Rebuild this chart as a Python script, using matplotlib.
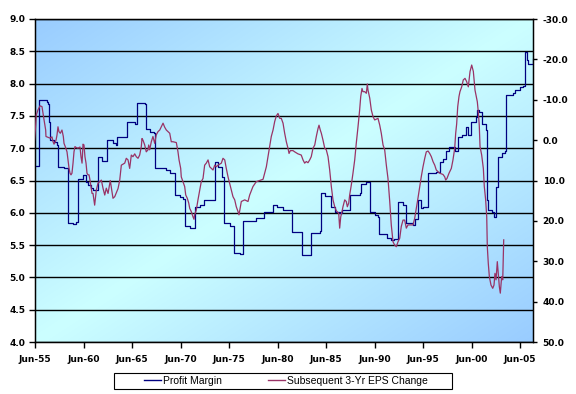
import numpy as np
import matplotlib
matplotlib.use("Agg")
import matplotlib.pyplot as plt
from matplotlib.lines import Line2D
from matplotlib.patches import Rectangle

# Profit margin (left axis), quarterly step data
pm_years = [
    1955.50, 1955.91, 1956.71, 1956.79, 1956.94, 1957.02, 1957.46, 1957.77, 1957.92, 1958.49,
    1958.90, 1959.42, 1959.73, 1959.96, 1960.45, 1960.76, 1960.96, 1961.27, 1961.48, 1961.99,
    1962.41, 1962.92, 1963.54, 1963.85, 1963.95, 1964.98, 1965.81, 1966.05, 1966.81, 1966.94,
    1967.36, 1967.77, 1967.87, 1969.00, 1969.42, 1969.93, 1970.45, 1970.76, 1970.96, 1971.48,
    1971.99, 1972.50, 1972.92, 1974.06, 1974.37, 1974.78, 1974.98, 1975.60, 1976.02, 1976.64,
    1976.94, 1978.28, 1979.11, 1980.04, 1980.45, 1981.07, 1981.99, 1983.03, 1983.95, 1984.88,
    1984.98, 1985.40, 1986.02, 1986.43, 1986.94, 1987.15, 1987.97, 1989.00, 1989.11, 1989.62,
    1990.00, 1990.55, 1990.86, 1990.96, 1991.79, 1992.20, 1992.51, 1992.92, 1993.44, 1993.75,
    1994.47, 1994.68, 1994.98, 1995.29, 1995.50, 1996.02, 1996.84, 1997.25, 1997.56, 1997.87,
    1998.18, 1998.80, 1999.08, 1999.52, 1999.94, 2000.15, 2000.45, 2000.97, 2001.10, 2001.28,
    2001.60, 2001.96, 2002.07, 2002.23, 2002.61, 2002.85, 2003.03, 2003.20, 2003.64, 2003.95,
    2004.06, 2004.68, 2004.81, 2004.98, 2005.50, 2005.81, 2006.01, 2006.19, 2006.35, 2006.70,
    2006.84]
pm_vals = [
    6.72, 7.75, 7.72, 7.68, 7.40, 7.13, 7.10, 7.05, 6.71, 6.69,
    5.84, 5.82, 5.86, 6.52, 6.58, 6.48, 6.43, 6.38, 6.36, 6.87,
    6.80, 7.12, 7.08, 7.05, 7.17, 7.41, 7.38, 7.70, 7.68, 7.30,
    7.25, 7.23, 6.69, 6.67, 6.62, 6.27, 6.24, 6.22, 5.79, 5.77,
    6.09, 6.12, 6.20, 6.79, 6.71, 6.56, 5.84, 5.79, 5.38, 5.36,
    5.88, 5.92, 6.02, 6.12, 6.09, 6.04, 5.70, 5.35, 5.69, 5.72,
    6.31, 6.26, 6.09, 6.02, 6.00, 6.04, 6.28, 6.30, 6.45, 6.47,
    6.02, 5.97, 5.94, 5.67, 5.61, 5.58, 5.60, 6.17, 6.12, 5.84,
    5.81, 5.90, 6.20, 6.07, 6.09, 6.61, 6.63, 6.79, 6.84, 6.95,
    7.02, 6.95, 7.18, 7.20, 7.33, 7.20, 7.41, 7.49, 7.59, 7.56,
    7.38, 7.28, 6.20, 6.04, 6.02, 5.94, 6.40, 6.87, 6.92, 6.96,
    7.82, 7.82, 7.85, 7.90, 7.95, 7.97, 8.49, 8.37, 8.30, 8.30,
    8.38]

# Subsequent 3-yr EPS change (right axis, inverted)
eps_years = [
    1955.45, 1955.57, 1955.63, 1955.81, 1956.02, 1956.22, 1956.32, 1956.46, 1956.60, 1956.63,
    1956.74, 1957.05, 1957.25, 1957.36, 1957.46, 1957.67, 1957.77, 1957.87, 1957.97, 1958.11,
    1958.28, 1958.42, 1958.49, 1958.62, 1958.80, 1958.90, 1959.01, 1959.11, 1959.21, 1959.31,
    1959.42, 1959.52, 1959.62, 1959.73, 1959.93, 1960.14, 1960.24, 1960.35, 1960.45, 1960.55,
    1960.65, 1960.76, 1960.86, 1960.96, 1961.07, 1961.17, 1961.27, 1961.38, 1961.48, 1961.65,
    1961.82, 1961.99, 1962.17, 1962.34, 1962.51, 1962.69, 1962.85, 1963.03, 1963.26, 1963.54,
    1963.72, 1964.06, 1964.23, 1964.40, 1964.75, 1964.91, 1965.09, 1965.26, 1965.43, 1965.60,
    1965.78, 1965.94, 1966.12, 1966.29, 1966.46, 1966.53, 1966.63, 1966.81, 1966.97, 1967.15,
    1967.22, 1967.32, 1967.49, 1967.66, 1967.84, 1968.00, 1968.18, 1968.36, 1968.52, 1968.70,
    1968.87, 1969.04, 1969.21, 1969.39, 1969.55, 1969.73, 1970.07, 1970.24, 1970.35, 1970.52,
    1970.58, 1970.76, 1970.93, 1971.04, 1971.20, 1971.35, 1971.45, 1971.61, 1971.79, 1971.89,
    1971.96, 1972.13, 1972.30, 1972.48, 1972.64, 1972.82, 1972.99, 1973.16, 1973.34, 1973.51,
    1973.85, 1974.03, 1974.19, 1974.37, 1974.71, 1974.88, 1975.06, 1975.22, 1975.40, 1975.57,
    1975.74, 1975.91, 1976.09, 1976.25, 1976.43, 1976.53, 1976.67, 1976.77, 1977.12, 1977.46,
    1977.63, 1977.97, 1978.31, 1978.67, 1979.01, 1979.18, 1979.35, 1979.52, 1979.70, 1979.86,
    1980.04, 1980.21, 1980.38, 1980.55, 1980.73, 1980.89, 1981.07, 1981.24, 1981.41, 1981.58,
    1981.69, 1981.82, 1982.10, 1982.27, 1982.61, 1982.95, 1983.13, 1983.30, 1983.47, 1983.64,
    1983.82, 1983.98, 1984.16, 1984.34, 1984.50, 1984.68, 1984.78, 1984.91, 1985.02, 1985.19,
    1985.37, 1985.53, 1985.71, 1985.88, 1986.05, 1986.22, 1986.40, 1986.56, 1986.81, 1986.91,
    1987.02, 1987.15, 1987.25, 1987.43, 1987.59, 1987.70, 1987.84, 1987.94, 1988.11, 1988.28,
    1988.46, 1988.62, 1988.80, 1988.97, 1989.08, 1989.21, 1989.31, 1989.49, 1989.66, 1989.76,
    1989.83, 1990.01, 1990.17, 1990.35, 1990.52, 1990.86, 1991.04, 1991.20, 1991.38, 1991.55,
    1991.72, 1991.89, 1992.07, 1992.23, 1992.41, 1992.58, 1992.75, 1992.92, 1993.10, 1993.26,
    1993.44, 1993.61, 1993.78, 1993.95, 1994.47, 1994.64, 1994.81, 1994.98, 1995.16, 1995.32,
    1995.50, 1995.68, 1995.84, 1996.02, 1996.19, 1996.36, 1996.53, 1996.71, 1996.87, 1997.22,
    1997.56, 1997.74, 1997.84, 1997.97, 1998.18, 1998.42, 1998.59, 1998.77, 1998.87, 1998.97,
    1999.08, 1999.21, 1999.31, 1999.49, 1999.65, 1999.83, 2000.00, 2000.17, 2000.35, 2000.52,
    2000.69, 2000.86, 2000.96, 2001.10, 2001.20, 2001.30, 2001.38, 2001.55, 2001.72, 2001.82,
    2001.96, 2002.07, 2002.13, 2002.23, 2002.34, 2002.51, 2002.69, 2002.82, 2002.92, 2003.03,
    2003.16, 2003.26, 2003.37, 2003.47, 2003.61, 2003.72, 2003.82]
eps_vals = [
    0.0, -3.7, -6.2, -7.5, -8.5, -8.3, -6.7, -4.6, -2.5, -0.9,
    -0.8, -0.5, -0.8, 0.4, 1.0, 0.0, -1.3, -3.3, -2.1, -1.7,
    -2.5, -0.9, 0.8, 1.6, 2.9, 4.9, 7.0, 8.2, 8.6, 8.2,
    5.7, 2.9, 1.6, 1.8, 2.0, 1.7, 4.1, 5.7, 1.0, 1.2,
    4.1, 5.7, 8.2, 8.6, 8.6, 9.9, 11.5, 13.2, 13.2, 16.1,
    12.4, 10.7, 10.3, 9.9, 11.9, 13.6, 11.9, 13.2, 10.0, 14.4,
    14.0, 12.0, 10.0, 6.2, 5.7, 4.5, 4.9, 7.0, 3.7, 4.1,
    3.4, 4.1, 4.5, 3.7, 1.6, -0.4, 0.0, 1.2, 2.9, 2.4,
    1.2, 2.4, 0.4, -0.9, 0.8, -1.3, -2.1, -2.5, -3.3, -4.2,
    -3.2, -2.5, -2.1, -1.7, 0.4, 0.4, 0.6, 2.9, 4.9, 7.0,
    9.1, 10.3, 11.5, 13.6, 14.4, 15.6, 16.9, 17.7, 19.0, 19.6,
    18.5, 17.3, 14.8, 12.4, 10.3, 9.5, 6.2, 5.7, 4.9, 6.6,
    7.4, 6.2, 6.6, 6.2, 5.7, 4.5, 4.9, 7.0, 9.1, 10.7,
    12.4, 14.0, 14.8, 16.5, 17.7, 18.5, 16.5, 15.2, 14.8, 15.2,
    13.6, 11.5, 10.3, 10.0, 9.7, 8.2, 6.6, 4.1, 1.6, -0.9,
    -2.5, -4.6, -6.0, -6.6, -5.4, -5.4, -4.2, -1.7, 0.4, 2.0,
    3.3, 2.6, 2.6, 2.9, 3.4, 3.7, 4.9, 5.7, 5.3, 5.6,
    4.9, 4.1, 2.0, 1.2, -0.9, -2.9, -3.7, -2.5, -1.7, 0.0,
    2.0, 2.4, 4.1, 7.4, 11.5, 14.8, 16.5, 17.5, 18.1, 21.8,
    19.0, 17.7, 16.5, 14.8, 15.2, 16.5, 15.6, 13.6, 11.1, 8.2,
    4.9, 0.8, -3.3, -7.5, -10.8, -12.8, -12.0, -12.0, -11.6, -13.9,
    -12.4, -10.4, -7.5, -5.8, -5.0, -5.4, -3.7, -1.7, 1.2, 2.4,
    6.2, 9.5, 15.2, 21.0, 25.2, 26.0, 26.4, 25.2, 24.3, 21.4,
    19.8, 19.8, 21.8, 21.0, 21.0, 19.4, 16.9, 14.4, 11.5, 9.1,
    6.6, 4.5, 2.9, 2.7, 3.3, 4.1, 5.3, 6.2, 7.4, 8.2,
    8.5, 9.1, 9.9, 9.5, 8.2, 7.0, 4.9, 2.0, -1.7, -4.0,
    -8.3, -10.8, -12.0, -13.2, -14.9, -15.3, -14.5, -13.2, -17.0, -18.6,
    -17.0, -12.4, -11.2, -9.5, -7.0, -3.7, 1.6, 3.7, 7.0, 11.5,
    14.8, 19.0, 26.4, 30.5, 33.8, 35.9, 36.7, 35.9, 33.0, 34.6,
    30.1, 33.0, 36.3, 37.9, 33.8, 34.6, 24.7]

tick_years = list(range(1955, 2006, 5))
left_ticks = np.arange(4.0, 9.01, 0.5)
right_ticks = list(range(-30, 51, 10))

BLUE = "#000080"
PLUM = "#993366"

fig = plt.figure(figsize=(5.76, 3.94), dpi=100)
ax = fig.add_axes([35 / 576, 1 - 342 / 394, 498 / 576, 323 / 394])

# diagonal gradient: blue corners (top-left, bottom-right), pale cyan across the middle
n = 300
xx, yy = np.meshgrid(np.linspace(0, 1, n), np.linspace(0, 1, n))
w = 1 - np.abs((xx + yy) - 1)
c_edge = np.array([153, 204, 255]) / 255
c_mid = np.array([204, 255, 255]) / 255
img = c_edge + (c_mid - c_edge) * w[..., None]
ax.imshow(img, extent=[0, 1, 0, 1], transform=ax.transAxes, aspect="auto",
          zorder=0, interpolation="bilinear")

ax.plot(pm_years, pm_vals, color=BLUE, lw=0.9, drawstyle="steps-post", zorder=3)
ax.set_xlim(1955.5, 1955.5 + 498 / 9.7)
ax.set_ylim(4.0, 9.0)
ax.set_yticks(left_ticks)
ax.set_yticklabels([f"{v:.1f}" for v in left_ticks])
ax.set_xticks([y + 0.5 for y in tick_years])
ax.set_xticklabels([f"Jun-{y % 100:02d}" for y in tick_years])
ax.set_axisbelow(True)
ax.grid(axis="y", color="black", lw=1.0)
ax.grid(axis="x", visible=False)
ax.tick_params(axis="y", direction="out", length=4, width=1, labelsize=6.5, pad=3)
ax.tick_params(axis="x", direction="out", length=4, width=1, labelsize=6.5, pad=5)
for s in ax.spines.values():
    s.set_color("black")
    s.set_linewidth(1.0)

ax2 = ax.twinx()
ax2.plot(eps_years, eps_vals, color=PLUM, lw=0.9, zorder=3)
ax2.set_ylim(50, -30)
ax2.set_yticks(right_ticks)
ax2.set_yticklabels([f"{v:.1f}" for v in right_ticks])
ax2.tick_params(axis="y", direction="out", length=3, width=1, labelsize=6.5, pad=4)
ax2.set_xlim(ax.get_xlim())

for lbl in ax.get_xticklabels() + ax.get_yticklabels() + ax2.get_yticklabels():
    lbl.set_fontweight("bold")
    lbl.set_family("DejaVu Sans")

# legend box below the plot
fig.patches.append(Rectangle((114 / 576, 1 - 389 / 394), 338 / 576, 16 / 394,
                             transform=fig.transFigure, facecolor="white",
                             edgecolor="black", lw=0.8))
handles = [Line2D([], [], color=BLUE, lw=1.0), Line2D([], [], color=PLUM, lw=1.0)]
fig.legend(handles, ["Profit Margin", "Subsequent 3-Yr EPS Change"],
           loc="center", bbox_to_anchor=(286 / 576, 1 - 381 / 394), ncol=2,
           frameon=False, handlelength=1.6, handletextpad=0.2, columnspacing=4.4,
           prop={"family": "Liberation Sans", "size": 7.5})

fig.savefig("out.png", dpi=100)
